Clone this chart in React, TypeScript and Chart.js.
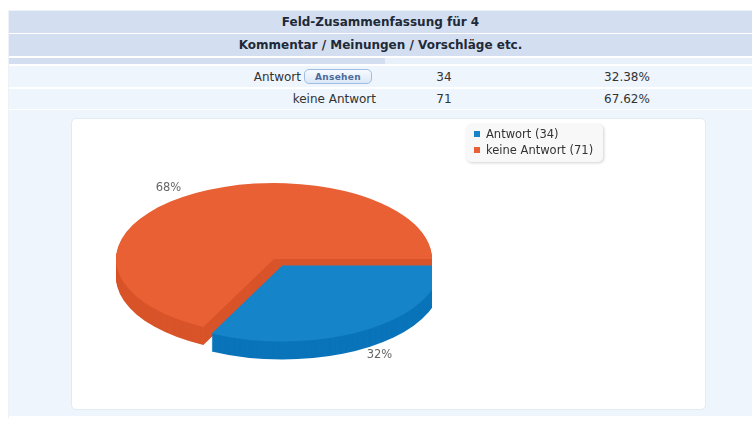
import React, { useEffect, useRef } from 'react';
import { Chart, registerables } from 'chart.js';

Chart.register(...registerables);

// ---- data ----
const TITLE = 'Feld-Zusammenfassung für 4';
const QUESTION = 'Kommentar / Meinungen / Vorschläge etc.';
const CATEGORIES = ['Antwort', 'keine Antwort'];
const COUNTS = [34, 71];
const BUTTON_LABEL = 'Ansehen';

// ---- styles ----
const TOP_COLORS = ['#1584c8', '#e86034'];
const SIDE_COLORS = ['#0a74ba', '#d9542a'];
const RX_RATIO = 1.1286; // ellipse horizontal radius / pie radius
const RY_RATIO = 0.543; // ellipse vertical radius / pie radius
const DEPTH = 18;

const TOTAL = COUNTS.reduce((a, b) => a + b, 0);
const pct = (v: number) => (v / TOTAL) * 100;

const pie3d = {
  id: 'pie3d',
  beforeDatasetsDraw(chart: any) {
    const meta = chart.getDatasetMeta(0);
    const ctx: CanvasRenderingContext2D = chart.ctx;
    const arcs = meta.data as any[];
    if (!arcs.length) return false;
    const base = arcs[0].getProps(['x', 'y', 'outerRadius'], true);
    const cx = base.x;
    const cy = base.y;
    const rx = base.outerRadius * RX_RATIO;
    const ry = base.outerRadius * RY_RATIO;
    const geo = arcs.map((a: any, i: number) => {
      const p = a.getProps(['startAngle', 'endAngle'], true);
      const off = (a.options && a.options.offset) || 0;
      const mid = (p.startAngle + p.endAngle) / 2;
      return {
        i,
        s: p.startAngle,
        e: p.endAngle,
        mid,
        x: cx + Math.cos(mid) * off * RX_RATIO,
        y: cy + Math.sin(mid) * off * RY_RATIO,
      };
    });
    const path = (g: any, dy: number) => {
      ctx.beginPath();
      ctx.moveTo(g.x, g.y + dy);
      ctx.ellipse(g.x, g.y + dy, rx, ry, 0, g.s, g.e);
      ctx.closePath();
    };
    ctx.save();
    ctx.beginPath();
    ctx.rect(0, 0, cx + rx, chart.height);
    ctx.clip();
    const order = [...geo].sort((a, b) => Math.sin(a.mid) - Math.sin(b.mid));
    for (const g of order) {
      ctx.fillStyle = SIDE_COLORS[g.i];
      for (let k = DEPTH; k >= 1; k--) {
        path(g, k);
        ctx.fill();
      }
    }
    for (const g of order) {
      ctx.fillStyle = TOP_COLORS[g.i];
      path(g, 0);
      ctx.fill();
    }
    ctx.restore();
    // percentage labels
    ctx.save();
    ctx.font = '11.5px "DejaVu Sans", sans-serif';
    ctx.fillStyle = '#666666';
    ctx.textAlign = 'center';
    ctx.textBaseline = 'middle';
    for (const g of geo) {
      const sn = Math.sin(g.mid);
      const lx = cx + Math.cos(g.mid) * rx * 1.27;
      const ly = cy + sn * ry * (sn > 0 ? 1.2 : 1.1) + (sn > 0 ? DEPTH : 0);
      ctx.fillText(Math.round(pct(COUNTS[g.i])) + '%', lx, ly);
    }
    ctx.restore();
    return false;
  },
};

const FONT = '"DejaVu Sans", Verdana, sans-serif';

export default function App() {
  const canvasRef = useRef<HTMLCanvasElement | null>(null);

  useEffect(() => {
    const canvas = canvasRef.current;
    if (!canvas) return;
    const chart = new Chart(canvas, {
      type: 'pie',
      data: {
        labels: CATEGORIES,
        datasets: [
          {
            data: COUNTS,
            backgroundColor: TOP_COLORS,
            borderWidth: 0,
            offset: [14, 0],
          } as any,
        ],
      },
      options: {
        responsive: false,
        animation: false,
        events: [],
        rotation: 90,
        radius: 140,
        layout: { padding: { left: 0, right: 229, top: 0, bottom: 10 } },
        plugins: { legend: { display: false }, tooltip: { enabled: false } },
      } as any,
      plugins: [pie3d],
    });
    return () => chart.destroy();
  }, []);

  const headerStyle: React.CSSProperties = {
    position: 'absolute',
    left: 9,
    right: 0,
    background: '#d3dff0',
    fontFamily: FONT,
    fontWeight: 'bold',
    fontSize: 12,
    color: '#1e2a38',
    textAlign: 'center',
  };
  const rowStyle: React.CSSProperties = {
    position: 'absolute',
    left: 9,
    right: 0,
    background: '#eef5fd',
    fontFamily: FONT,
    fontSize: 12,
    color: '#333',
  };
  const cellAbs = (left: number, width: number, align: 'left' | 'right' | 'center'): React.CSSProperties => ({
    position: 'absolute',
    left,
    width,
    top: 0,
    bottom: 0,
    display: 'flex',
    alignItems: 'center',
    justifyContent: align === 'right' ? 'flex-end' : align === 'center' ? 'center' : 'flex-start',
    whiteSpace: 'nowrap',
  });

  const rowTops = [66, 89];
  const rowHeights = [21, 20];

  return (
    <div style={{ position: 'fixed', inset: 0, background: '#fff', overflow: 'hidden' }}>
      {/* outer faint border */}
      <div style={{ position: 'absolute', left: 8, top: 10, right: 0, height: 407, borderLeft: '1px solid #edf2f8', borderTop: '1px solid #edf2f8' }} />
      <div style={{ ...headerStyle, top: 11, height: 22, lineHeight: '22px' }}>{TITLE}</div>
      <div style={{ ...headerStyle, top: 34, height: 22, lineHeight: '22px' }}>{QUESTION}</div>
      <div style={{ position: 'absolute', left: 9, top: 58, width: 376, height: 6, background: '#d3dff0' }} />
      <div style={{ position: 'absolute', left: 385, top: 58, right: 0, height: 6, background: '#e8f0fa' }} />
      {CATEGORIES.map((c, i) => (
        <div key={c} style={{ ...rowStyle, top: rowTops[i], height: rowHeights[i] }}>
          <div style={cellAbs(0, 367, 'right')}>
            <span>{c}</span>
            {i === 0 && (
              <span
                style={{
                  marginLeft: 3,
                  width: 66,
                  height: 13,
                  border: '1px solid #9ebfe3',
                  borderRadius: 5,
                  background: 'linear-gradient(#f7faff, #dce8f7)',
                  color: '#4b6b9a',
                  fontSize: 9,
                  fontWeight: 'bold',
                  display: 'inline-flex',
                  alignItems: 'center',
                  justifyContent: 'center',
                  letterSpacing: 0.3,
                  marginRight: 4,
                }}
              >
                {BUTTON_LABEL}
              </span>
            )}
          </div>
          <div style={cellAbs(405, 60, 'center')}>{COUNTS[i]}</div>
          <div style={cellAbs(568, 100, 'center')}>{pct(COUNTS[i]).toFixed(2)}%</div>
        </div>
      ))}
      {/* chart area */}
      <div style={{ position: 'absolute', left: 9, right: 0, top: 110, height: 306, background: '#eef5fd' }} />
      <div
        style={{
          position: 'absolute',
          left: 71,
          top: 118,
          width: 633,
          height: 290,
          background: '#fff',
          border: '1px solid #e4eaf1',
          borderRadius: 5,
        }}
      />
      <canvas
        ref={canvasRef}
        width={635}
        height={292}
        style={{ position: 'absolute', left: 71, top: 118, width: 635, height: 292 }}
      />
      {/* legend */}
      <div
        style={{
          position: 'absolute',
          left: 466,
          top: 124,
          width: 137,
          height: 38,
          background: '#f8f8f8',
          borderRadius: 5,
          boxShadow: '1px 1px 3px rgba(0,0,0,0.18)',
          fontFamily: FONT,
          fontSize: 11.5,
          color: '#333',
        }}
      >
        {CATEGORIES.map((c, i) => (
          <div key={c} style={{ position: 'absolute', left: 8, top: 2 + i * 16, height: 16, display: 'flex', alignItems: 'center', whiteSpace: 'nowrap' }}>
            <span style={{ width: 6, height: 6, background: TOP_COLORS[i], marginRight: 6, display: 'inline-block' }} />
            <span>{`${c} (${COUNTS[i]})`}</span>
          </div>
        ))}
      </div>
    </div>
  );
}
